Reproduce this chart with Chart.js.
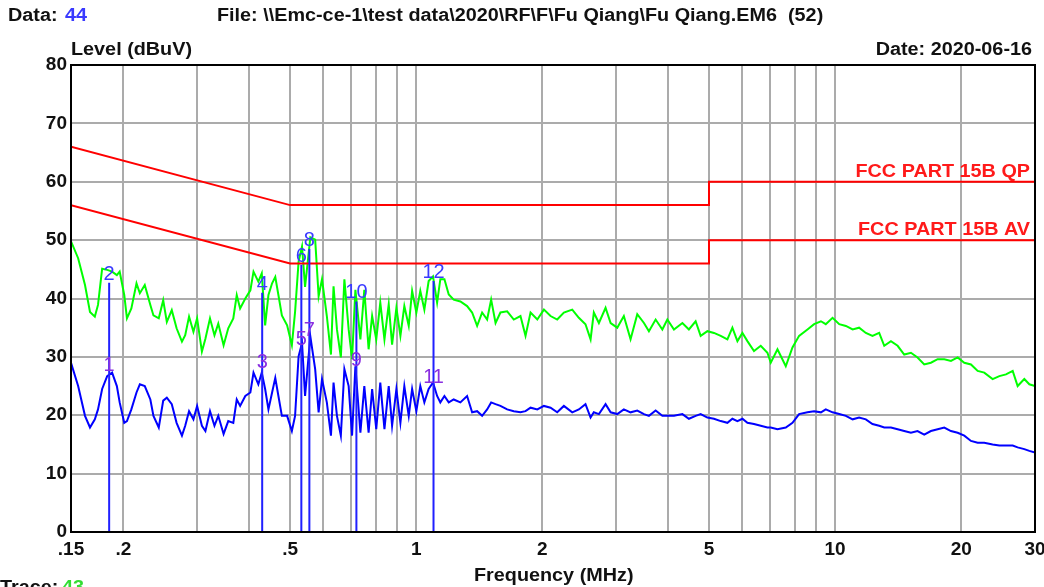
<!DOCTYPE html>
<html>
<head>
<meta charset="utf-8">
<script src="https://cdn.jsdelivr.net/npm/chart.js@4.4.0/dist/chart.umd.min.js"></script>
<style>
html, body { margin: 0; padding: 0; background: #fff; overflow: hidden; }
</style>
</head>
<body>
<canvas id="myChart" width="1044" height="587"></canvas>
<script>
// frequencies (MHz) where the two traces were read
const freqs = [
    0.150, 0.156, 0.162, 0.1665, 0.171, 0.174, 0.178, 0.183, 0.188, 0.193,
    0.196, 0.201, 0.204, 0.209, 0.215, 0.219, 0.225, 0.232, 0.236, 0.243,
    0.249, 0.254, 0.261, 0.268, 0.276, 0.281, 0.287, 0.294, 0.300, 0.308,
    0.314, 0.322, 0.330, 0.337, 0.347, 0.356, 0.366, 0.373, 0.380, 0.391,
    0.402, 0.409, 0.420, 0.428, 0.436, 0.444, 0.453, 0.461, 0.469, 0.478,
    0.492, 0.505, 0.514, 0.524, 0.534, 0.543, 0.559, 0.574, 0.585, 0.596,
    0.612, 0.626, 0.635, 0.647, 0.661, 0.674, 0.690, 0.703, 0.716, 0.736,
    0.752, 0.770, 0.785, 0.803, 0.821, 0.840, 0.860, 0.876, 0.897, 0.917,
    0.937, 0.960, 0.978, 1.001, 1.023, 1.046, 1.071, 1.097, 1.122, 1.142,
    1.168, 1.196, 1.229, 1.275, 1.323, 1.360, 1.398, 1.437, 1.477, 1.510,
    1.547, 1.589, 1.649, 1.710, 1.774, 1.824, 1.875, 1.946, 2.018, 2.093,
    2.171, 2.252, 2.358, 2.445, 2.536, 2.608, 2.655, 2.730, 2.832, 2.912,
    3.020, 3.131, 3.249, 3.371, 3.497, 3.594, 3.729, 3.869, 3.977, 4.124,
    4.320, 4.477, 4.646, 4.776, 4.956, 5.139, 5.333, 5.532, 5.686, 5.845,
    6.008, 6.175, 6.403, 6.645, 6.894, 7.021, 7.285, 7.625, 7.911, 8.204,
    8.59, 8.91, 9.25, 9.50, 9.86, 10.23, 10.61, 11.01, 11.41, 11.84,
    12.28, 12.74, 13.10, 13.59, 14.10, 14.62, 15.17, 15.73, 16.32, 16.93,
    17.57, 18.22, 18.90, 19.61, 20.34, 21.10, 21.89, 22.70, 23.77, 24.66,
    25.58, 26.54, 27.27, 28.29, 29.08, 30.0
];

// green trace (peak)
const peakLevel = [
    49.8, 46.9, 42.3, 37.7, 36.9, 38.9, 45.1, 44.9, 44.6, 44.0,
    44.6, 40.6, 36.6, 38.3, 42.6, 40.9, 42.3, 38.9, 37.1, 36.6,
    39.7, 36.0, 38.0, 34.9, 32.6, 33.7, 36.9, 34.3, 36.6, 30.9,
    33.1, 36.6, 33.7, 35.7, 32.0, 34.9, 36.6, 40.6, 38.3, 40.0,
    41.4, 44.6, 42.9, 44.3, 35.4, 40.6, 42.6, 43.7, 40.6, 37.1,
    35.4, 32.0, 37.7, 46.3, 48.9, 42.0, 50.5, 50.1, 40.4, 43.3,
    37.0, 30.4, 42.1, 34.7, 29.9, 43.3, 34.7, 29.6, 41.5, 33.0,
    41.5, 31.3, 37.0, 33.0, 39.3, 33.0, 39.0, 32.1, 38.4, 33.6,
    38.7, 35.3, 41.3, 37.6, 41.3, 38.1, 43.0, 43.8, 39.3, 43.3,
    43.3, 40.7, 39.8, 39.5, 38.7, 37.6, 35.3, 37.6, 36.4, 39.8,
    35.8, 37.6, 37.8, 36.4, 37.0, 33.6, 37.6, 36.4, 38.1, 37.0,
    36.4, 37.6, 38.1, 36.7, 35.6, 33.0, 37.6, 35.8, 38.4, 35.8,
    35.0, 37.0, 33.0, 37.3, 35.8, 34.4, 36.4, 34.7, 36.4, 34.7,
    35.8, 34.7, 36.1, 33.6, 34.4, 34.1, 33.6, 33.0, 35.0, 32.7,
    34.1, 32.7, 31.0, 31.9, 30.7, 29.0, 31.3, 28.4, 31.6, 33.6,
    34.7, 35.6, 36.1, 35.6, 36.7, 35.6, 35.3, 34.7, 35.0, 34.1,
    33.6, 34.1, 31.9, 32.7, 31.9, 30.4, 30.7, 29.9, 28.7, 29.0,
    29.6, 29.6, 29.3, 29.9, 29.0, 28.7, 27.6, 27.3, 26.2, 26.7,
    27.0, 27.6, 25.0, 26.2, 25.3, 25.0
];

// blue trace (average)
const avgLevel = [
    29.0, 25.0, 19.9, 17.9, 19.3, 21.0, 24.5, 26.7, 27.3, 25.0,
    22.2, 18.7, 19.0, 21.0, 23.9, 25.3, 25.0, 22.7, 19.9, 17.9,
    22.5, 23.0, 21.9, 18.7, 16.5, 18.2, 20.7, 19.3, 21.6, 18.2,
    17.3, 20.7, 18.2, 19.9, 16.8, 19.0, 18.7, 22.7, 21.6, 23.3,
    23.9, 27.3, 25.3, 27.3, 24.5, 21.0, 23.9, 26.4, 23.3, 19.9,
    19.9, 17.3, 19.9, 30.1, 32.4, 23.3, 33.5, 27.9, 20.5, 26.2,
    22.2, 16.5, 25.6, 19.9, 16.5, 27.9, 25.0, 16.5, 28.4, 17.0,
    25.0, 17.0, 24.5, 17.6, 25.6, 17.6, 25.0, 18.2, 24.5, 18.7,
    25.0, 19.9, 24.5, 20.7, 25.0, 22.2, 24.5, 25.6, 23.3, 22.2,
    23.3, 22.2, 22.7, 22.2, 23.3, 20.5, 20.7, 19.9, 21.0, 22.2,
    21.9, 21.6, 21.0, 20.7, 20.5, 20.7, 21.3, 21.0, 21.6, 21.3,
    20.5, 21.6, 20.5, 21.0, 21.9, 19.6, 20.5, 20.2, 21.9, 20.5,
    20.2, 21.0, 20.5, 20.8, 20.2, 19.9, 20.8, 19.9, 19.9, 19.9,
    20.2, 19.4, 19.9, 20.2, 19.6, 19.4, 19.0, 18.7, 19.4, 19.0,
    19.4, 18.7, 18.5, 18.2, 17.9, 17.9, 17.6, 17.9, 18.7, 20.2,
    20.5, 20.7, 20.5, 21.0, 20.5, 20.2, 19.9, 19.3, 19.6, 19.3,
    18.5, 18.2, 17.9, 17.9, 17.6, 17.3, 17.0, 17.3, 16.7, 17.3,
    17.6, 17.9, 17.3, 17.0, 16.5, 15.6, 15.3, 15.3, 15.0, 14.8,
    14.8, 14.8, 14.5, 14.2, 13.9, 13.6
];

// limit lines
const limitFreqs = [0.15, 0.5, 5, 5, 30];
const qpLimit = [66, 56, 56, 60, 60];
const avLimit = [56, 46, 46, 50, 50];

// markers
const markerNums = [1, 2, 3, 4, 5, 6, 7, 8, 9, 10, 11, 12];
const markerFreqs = [0.185, 0.185, 0.429, 0.429, 0.532, 0.532, 0.556, 0.556, 0.72, 0.72, 1.10, 1.10];
const markerLevels = [27.0, 42.7, 27.5, 41.0, 31.5, 45.8, 33.0, 48.5, 28.0, 39.5, 25.0, 43.0];

// axes
const xGridValues = [0.15, 0.2, 0.3, 0.4, 0.5, 0.6, 0.7, 0.8, 0.9, 1, 2, 3, 4, 5, 6, 7, 8, 9, 10, 20, 30];
const xTickLabels = { '0.15': '.15', '0.2': '.2', '0.5': '.5', '1': '1', '2': '2', '5': '5', '10': '10', '20': '20', '30': '30' };

const FONT = '"Liberation Sans", Arial, sans-serif';

function toPoints(xs, ys) {
    return xs.map((f, i) => ({ x: f, y: ys[i] }));
}

// marker lines: one vertical line per frequency, up to the highest marker there
function markerLinePoints() {
    const pts = [];
    for (let i = 0; i < markerNums.length; i += 2) {
        const top = Math.max(markerLevels[i], markerLevels[i + 1]);
        pts.push({ x: markerFreqs[i], y: 0 });
        pts.push({ x: markerFreqs[i], y: top });
        pts.push({ x: markerFreqs[i], y: null });
    }
    return pts;
}

function stretchText(ctx, text, x, y, align, color) {
    ctx.save();
    ctx.translate(x, y);
    ctx.scale(1.1, 1);
    ctx.textAlign = align;
    ctx.fillStyle = color;
    ctx.fillText(text, 0, 0);
    ctx.restore();
}

const decoraciones = {
    id: 'decoraciones',
    afterDraw(chart) {
        const ctx = chart.ctx;
        const area = chart.chartArea;
        const { x, y } = chart.scales;

        // marco
        ctx.save();
        ctx.strokeStyle = '#000';
        ctx.lineWidth = 2;
        ctx.strokeRect(area.left, area.top, area.right - area.left, area.bottom - area.top);
        ctx.restore();

        // numeros de los marcadores
        ctx.save();
        ctx.font = '20px ' + FONT;
        ctx.textAlign = 'center';
        ctx.textBaseline = 'alphabetic';
        markerNums.forEach((n, i) => {
            const px = x.getPixelForValue(markerFreqs[i]);
            const py = y.getPixelForValue(markerLevels[i]);
            ctx.fillStyle = n % 2 ? '#8a2ee0' : '#3a3aff';
            ctx.fillText(String(n), px, py - 3);
        });
        ctx.restore();

        // textos
        ctx.save();
        ctx.font = 'bold 18px ' + FONT;
        ctx.textBaseline = 'alphabetic';
        stretchText(ctx, 'Data:', 8, 21, 'left', '#111');
        stretchText(ctx, '44', 65, 21, 'left', '#3a3aff');
        stretchText(ctx, 'File: \\\\Emc-ce-1\\test data\\2020\\RF\\F\\Fu Qiang\\Fu Qiang.EM6  (52)', 217, 21, 'left', '#111');
        stretchText(ctx, 'Level (dBuV)', 71, 55, 'left', '#111');
        stretchText(ctx, 'Date: 2020-06-16', 1032, 55, 'right', '#111');
        stretchText(ctx, 'Frequency (MHz)', 474, 581, 'left', '#111');
        stretchText(ctx, 'Trace:', 0, 593, 'left', '#111');
        stretchText(ctx, '43', 62, 593, 'left', '#33dd33');
        stretchText(ctx, 'FCC PART 15B QP', 1030, 177, 'right', '#ff1a1a');
        stretchText(ctx, 'FCC PART 15B AV', 1030, 235, 'right', '#ff1a1a');
        ctx.restore();
    }
};

window.onload = function () {
    const ctx = document.getElementById('myChart').getContext('2d');

    new Chart(ctx, {
        type: 'line',
        data: {
            datasets: [
                {
                    label: 'Markers',
                    data: markerLinePoints(),
                    borderColor: '#2020ff',
                    borderWidth: 2,
                    pointRadius: 0,
                    spanGaps: false
                },
                {
                    label: 'QP limit',
                    data: toPoints(limitFreqs, qpLimit),
                    borderColor: '#ff0000',
                    borderWidth: 2,
                    pointRadius: 0
                },
                {
                    label: 'AV limit',
                    data: toPoints(limitFreqs, avLimit),
                    borderColor: '#ff0000',
                    borderWidth: 2,
                    pointRadius: 0
                },
                {
                    label: 'Average',
                    data: toPoints(freqs, avgLevel),
                    borderColor: '#0000ff',
                    borderWidth: 2,
                    pointRadius: 0
                },
                {
                    label: 'Peak',
                    data: toPoints(freqs, peakLevel),
                    borderColor: '#00ff00',
                    borderWidth: 2,
                    pointRadius: 0
                }
            ]
        },
        options: {
            responsive: false,
            animation: false,
            events: [],
            layout: { padding: { top: 65, right: 9, left: 0, bottom: 0 } },
            plugins: {
                legend: { display: false },
                tooltip: { enabled: false }
            },
            elements: { line: { tension: 0 } },
            scales: {
                x: {
                    type: 'logarithmic',
                    min: 0.15,
                    max: 30,
                    afterBuildTicks: scale => {
                        scale.ticks = xGridValues.map(v => ({ value: v }));
                    },
                    afterFit: scale => {
                        scale.height = 55;
                        scale.paddingLeft = 0;
                        scale.paddingRight = 0;
                    },
                    grid: { color: '#ababab', lineWidth: 2, drawTicks: false },
                    border: { display: false },
                    ticks: {
                        autoSkip: false,
                        maxRotation: 0,
                        padding: 6,
                        color: '#111',
                        font: { family: FONT, size: 19, weight: 'bold' },
                        callback: value => xTickLabels[String(value)] || ''
                    }
                },
                y: {
                    min: 0,
                    max: 80,
                    afterFit: scale => {
                        scale.width = 71;
                        scale.paddingTop = 0;
                        scale.paddingBottom = 0;
                    },
                    grid: { color: '#ababab', lineWidth: 2, drawTicks: false },
                    border: { display: false },
                    ticks: {
                        stepSize: 10,
                        padding: 4,
                        color: '#111',
                        font: { family: FONT, size: 19, weight: 'bold' }
                    }
                }
            }
        },
        plugins: [decoraciones]
    });
};
</script>
</body>
</html>
